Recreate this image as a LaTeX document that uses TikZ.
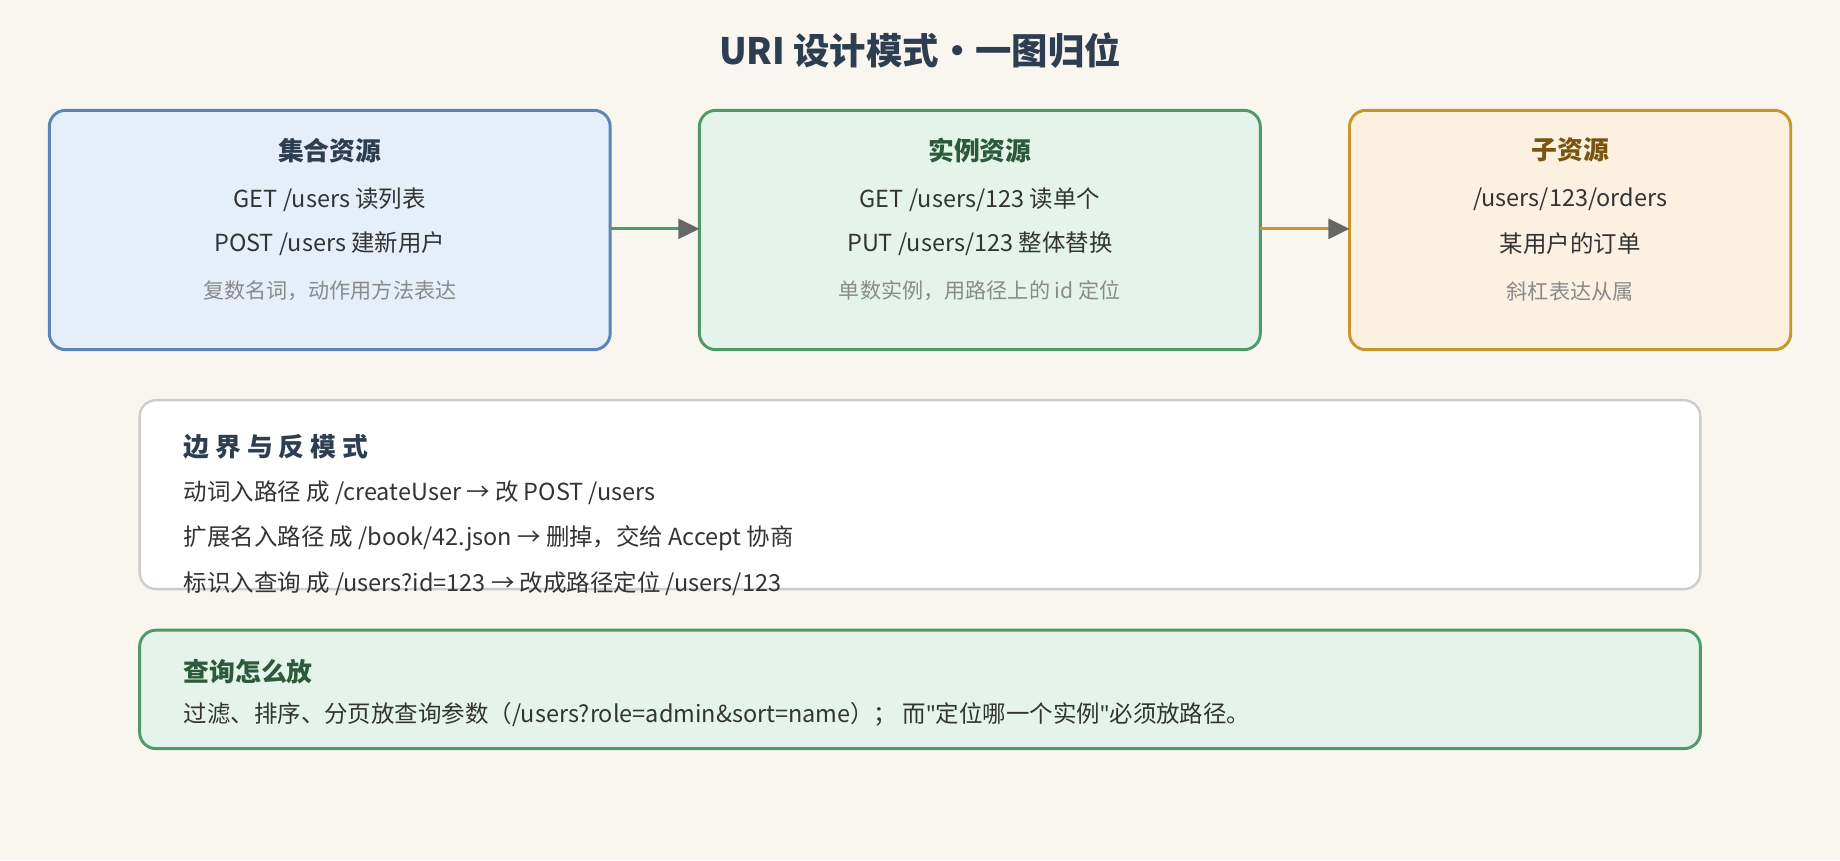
\documentclass[tikz,border=0pt]{standalone}
\usepackage{fontspec}
\setmainfont{Noto Sans CJK SC}
\newfontfamily\qfont{Noto Sans}
\newcommand{\sq}{{\qfont\symbol{34}}}
\usetikzlibrary{arrows.meta}
\definecolor{bg}{HTML}{F9F6F0}
\definecolor{ink}{HTML}{2C3E50}
\definecolor{txt}{HTML}{333333}
\definecolor{note}{HTML}{8A8A8A}
\definecolor{bfill}{HTML}{E6EEF9}\definecolor{bline}{HTML}{5B84B8}
\definecolor{gfill}{HTML}{E5F4EA}\definecolor{gline}{HTML}{4E9A68}\definecolor{gdark}{HTML}{2D5A3A}
\definecolor{ofill}{HTML}{FCF1E0}\definecolor{oline}{HTML}{C9962E}\definecolor{odark}{HTML}{7A5510}
\definecolor{tip}{HTML}{666666}
\begin{document}
\begin{tikzpicture}[x=1pt,y=-1pt,
  box/.style={draw,line width=2.5pt,rounded corners=14pt},
  ttl/.style={font=\fontsize{22}{25}\selectfont\bfseries},
  ln/.style={font=\fontsize{20}{23}\selectfont,text=txt},
  nt/.style={font=\fontsize{18}{21}\selectfont,text=note},
  arr/.style={line width=2.5pt,-{Triangle[length=18pt,width=17pt,color=tip]}}]
\fill[bg] (0,0) rectangle (1568,733);
\useasboundingbox (0,0) rectangle (1568,733);
\node[font=\fontsize{31}{35}\selectfont\bfseries,text=ink] (title) at (784,43) {URI 设计模式·一图归位};
% box 1
\draw[box,fill=bfill,draw=bline] (42,94) rectangle (520,298);
\node[ttl,text=ink] (b1t) at (281,128) {集合资源};
\node[ln] (b1a) at (281,170) {GET /users 读列表};
\node[ln] (b1b) at (281,208) {POST /users 建新用户};
\node[nt] (b1c) at (281,248) {复数名词，动作用方法表达};
% box 2
\draw[box,fill=gfill,draw=gline] (596,94) rectangle (1074,298);
\node[ttl,text=gdark] (b2t) at (835,128) {实例资源};
\node[ln] (b2a) at (835,170) {GET /users/123 读单个};
\node[ln] (b2b) at (835,208) {PUT /users/123 整体替换};
\node[nt] (b2c) at (835,248) {单数实例，用路径上的 id 定位};
% box 3
\draw[box,fill=ofill,draw=oline] (1150,94) rectangle (1526,298);
\node[ttl,text=odark] (b3t) at (1338,128) {子资源};
\node[ln] (b3a) at (1338,170) {/users/123/orders};
\node[ln] (b3b) at (1338,208) {某用户的订单};
\node[nt] (b3c) at (1338,248) {斜杠表达从属};
\coordinate (a1s) at (520,195); \coordinate (a1e) at (596,195);
\coordinate (a2s) at (1074,195); \coordinate (a2e) at (1150,195);
\draw[arr,gline] (a1s) -- (a1e);
\draw[arr,oline] (a2s) -- (a2e);
% box 4
\draw[draw=black!20,fill=white,line width=2pt,rounded corners=14pt] (119,341) rectangle (1449,502);
\node[ttl,text=ink,anchor=west] (b4t) at (153,381) {边 界 与 反 模 式};
\node[ln,anchor=west] (b4a) at (153,420) {动词入路径 成 /createUser → 改 POST /users};
\node[ln,anchor=west] (b4b) at (153,459) {扩展名入路径 成 /book/42.json → 删掉，交给 Accept 协商};
\node[ln,anchor=west] (b4c) at (153,497) {标识入查询 成 /users?id=123 → 改成路径定位 /users/123};
% box 5
\draw[box,fill=gfill,draw=gline] (119,537) rectangle (1449,638);
\node[ttl,text=gdark,anchor=west] (b5t) at (153,572) {查询怎么放};
\node[ln,anchor=west] (b5a) at (153,609) {过滤、排序、分页放查询参数（/users?role=admin\&sort=name）； 而\sq 定位哪一个实例\sq 必须放路径。};
\end{tikzpicture}
\end{document}
